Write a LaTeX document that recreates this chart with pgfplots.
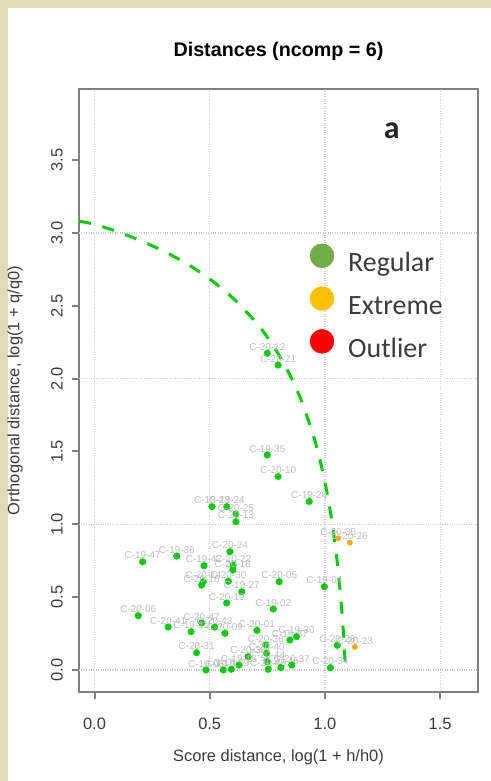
\documentclass[border=0pt]{standalone}
\usepackage{pgfplots}
\usepackage{pgfplotstable}
\pgfplotsset{compat=1.18}
\usepackage{fontspec}
\setmainfont{Liberation Sans}
\newfontfamily\carlito{Carlito}
\definecolor{beige}{RGB}{226,218,178}
\definecolor{ptgreen}{RGB}{0,205,0}
\definecolor{ptorange}{RGB}{255,165,0}
\definecolor{framegray}{RGB}{128,128,128}
\definecolor{gridgray}{RGB}{205,205,205}
\definecolor{labgray}{RGB}{190,190,190}
\definecolor{txtgray}{RGB}{60,60,60}
\definecolor{regular}{RGB}{112,173,71}
\definecolor{extreme}{RGB}{255,192,0}
\definecolor{outlier}{RGB}{255,0,0}

\pgfplotstableread{
x y lab
0.750 2.174 C-20-12
0.797 2.093 C-20-21
0.750 1.476 C-19-35
0.797 1.328 C-20-10
0.932 1.157 C-19-28
0.510 1.121 C-19-23
0.574 1.121 C-19-24
0.614 1.071 C-20-25
0.614 1.018 C-20-13
0.209 0.743 C-19-47
0.357 0.782 C-19-36
0.588 0.812 C-20-24
0.475 0.716 C-19-42
0.602 0.721 C-20-22
0.600 0.686 C-20-18
0.472 0.606 C-20-14
0.465 0.583 C-20-16
0.581 0.609 C-20-30
0.802 0.606 C-20-05
0.998 0.572 C-19-04
0.639 0.537 C-19-27
0.574 0.460 C-20-19
0.776 0.419 C-19-02
0.190 0.373 C-20-06
0.320 0.295 C-20-41
0.465 0.323 C-20-47
0.521 0.295 C-20-43
0.419 0.263 C-19-11
0.566 0.252 C-20-09
0.705 0.272 C-20-01
0.848 0.206 C-19-37
0.877 0.229 C-19-30
1.054 0.170 C-20-28
0.443 0.119 C-20-31
0.667 0.091 C-20-38
0.744 0.172 C-20-36
0.747 0.115 C-20-40
0.750 0.057 C-20-44
0.754 0.005 C-20-45
0.484 0.000 C-19-06
0.559 0.000 C-19-08
0.594 0.005 C-19-09
0.627 0.034 C-19-15
0.809 0.017 C-20-46
0.856 0.034 C-20-37
1.024 0.016 C-20-34
}\regulartab

\pgfplotstableread{
x y lab
1.058 0.904 C-20-35
1.108 0.874 C-20-26
1.130 0.158 C-20-23
}\extremetab

\pgfplotstableread{
x y
-0.067 3.080
0.000 3.060
0.100 3.008
0.200 2.947
0.300 2.875
0.400 2.789
0.500 2.684
0.600 2.554
0.700 2.388
0.750 2.285
0.800 2.164
0.850 2.019
0.900 1.840
0.950 1.609
0.975 1.465
1.000 1.290
1.015 1.166
1.030 1.023
1.050 0.787
1.060 0.643
1.070 0.473
1.080 0.263
1.090 0.000
}\limittab

\begin{document}
\begin{tikzpicture}
\path[use as bounding box] (0,0) rectangle (491bp,-781bp);
\fill[white] (0,0) rectangle (491bp,-781bp);
\fill[beige] (0,0) rectangle (491bp,-8bp);
\fill[beige] (0,0) rectangle (7.5bp,-781bp);
\begin{axis}[
  at={(79bp,-692bp)}, anchor=south west,
  scale only axis, width=399bp, height=603bp,
  xmin=-0.0673, xmax=1.6645, ymin=-0.151, ymax=3.988,
  axis line style={draw=framegray, line width=2.5bp},
  xtick={0,0.5,1,1.5}, ytick={0,0.5,1,1.5,2,2.5,3,3.5},
  xtick pos=lower, ytick pos=left,
  xmajorgrids=true,
  extra y ticks={0,1,2,3}, extra y tick labels={},
  extra y tick style={ymajorgrids=true, major tick length=0pt},
  grid style={gridgray, dotted, line width=1.2bp},
  tick align=outside, major tick length=7bp,
  every tick/.style={framegray, line width=2bp},
  /pgf/number format/assume math mode=true,
  /pgf/number format/.cd, fixed, fixed zerofill, precision=1, /pgfplots/.cd,
  tick label style={font=\fontsize{16.5}{18}\selectfont, text=txtgray},
  xticklabel style={anchor=center, yshift=-25bp},
  yticklabel style={anchor=center, xshift=-15bp, rotate=90},
  label style={font=\fontsize{16.5}{18}\selectfont, text=txtgray},
  xlabel={Score distance, log(1 + h/h0)},
  ylabel={Orthogonal distance, log(1 + q/q0)},
  xlabel style={at={(axis description cs:0.5,-0.108)}, anchor=center},
  ylabel style={at={(axis description cs:-0.160,0.5)}, anchor=center},
  title={Distances (ncomp = 6)},
  title style={at={(axis description cs:0.5,1.053)}, anchor=center, font=\bfseries\fontsize{19.8}{22}\selectfont},
  legend style={at={(axis description cs:0.578,0.744)}, anchor=north west,
    draw=none, fill=none, font=\carlito\fontsize{28}{30}\selectfont, text=txtgray,
    row sep=7.6bp, column sep=14bp, inner sep=0pt,
    nodes={inner sep=0pt, text height=21bp, text depth=7bp}},
  legend cell align=left,
  clip=false,
]
\addlegendimage{legend image code/.code={\fill[regular] (12bp,9bp) circle (12bp);}}
\addlegendentry{Regular}
\addlegendimage{legend image code/.code={\fill[extreme] (12bp,9bp) circle (12bp);}}
\addlegendentry{Extreme}
\addlegendimage{legend image code/.code={\fill[outlier] (12bp,9bp) circle (12bp);}}
\addlegendentry{Outlier}

\addplot[forget plot, ptgreen, line width=3bp, dash pattern=on 12bp off 12bp, smooth] table[x=x,y=y] {\limittab};

\addplot[forget plot, only marks, mark=*, mark size=3.3bp, mark options={fill=ptgreen, draw=ptgreen},
  nodes near coords, point meta=explicit symbolic,
  every node near coord/.append style={font=\fontsize{10}{11}\selectfont, text=labgray, inner sep=0.5bp, yshift=2bp}]
  table[x=x,y=y,meta=lab] {\regulartab};
\addplot[forget plot, only marks, mark=*, mark size=2.6bp, mark options={fill=ptorange, draw=ptorange},
  nodes near coords, point meta=explicit symbolic,
  every node near coord/.append style={font=\fontsize{10}{11}\selectfont, text=labgray, inner sep=0.5bp, yshift=2bp}]
  table[x=x,y=y,meta=lab] {\extremetab};

\node[font=\carlito\bfseries\fontsize{32}{34}\selectfont, text=black!85] at (axis description cs:0.784,0.930) {a};
\end{axis}
\end{tikzpicture}
\end{document}
